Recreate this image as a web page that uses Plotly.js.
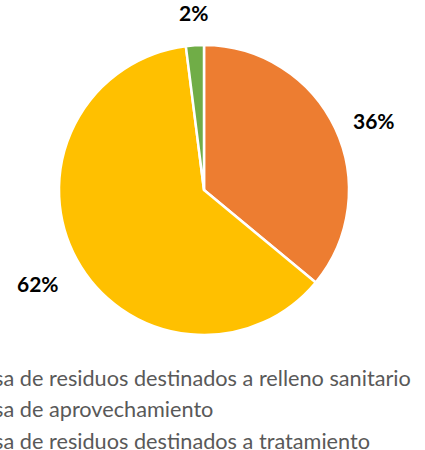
<!DOCTYPE html>
<html>
<head>
<meta charset="utf-8">
<script src="https://cdn.plot.ly/plotly-3.0.1.min.js"></script>
<style>html,body{margin:0;padding:0;background:#fff;overflow:hidden;width:425px;height:450px;}#wrap{position:relative;width:425px;height:450px;overflow:hidden;}#chart{position:absolute;left:-67px;top:0;width:492px;height:480px;}</style>
</head>
<body>
<div id="wrap"><div id="chart"></div></div>
<script>
const labels = [
  "Tasa de residuos destinados a relleno sanitario",
  "Tasa de aprovechamiento",
  "Tasa de residuos destinados a tratamiento"
];
const values = [36, 62, 2];
const colors = ["#ED7D31", "#FFC000", "#70AD47"];

// geometry (pixels within the plotly paper)
const W = 492, H = 480;
const cx = 271, cy = 190, R = 145, GAP = 18;

const trace = {
  type: "pie",
  labels: labels,
  values: values,
  sort: false,
  direction: "clockwise",
  rotation: 0,
  marker: {colors: colors, line: {color: "#ffffff", width: 2.5}},
  textinfo: "none",
  hoverinfo: "none",
  domain: {x: [(cx - R) / W, (cx + R) / W], y: [1 - (cy + R) / H, 1 - (cy - R) / H]}
};

// percentage labels placed just outside each slice, from the data
const total = values.reduce((a, b) => a + b, 0);
let cum = 0;
const annotations = values.map(v => {
  const mid = (cum + v / 2) / total * 2 * Math.PI;
  cum += v;
  const dx = Math.sin(mid), dy = -Math.cos(mid); // screen direction
  const px = cx + (R + GAP) * dx, py = cy + (R + GAP) * dy;
  const pct = Math.round(v / total * 100) + "%";
  return {
    x: px / W, y: 1 - py / H, xref: "paper", yref: "paper",
    text: "<b>" + pct + "</b>", showarrow: false,
    xanchor: dx > 0.3 ? "left" : (dx < -0.3 ? "right" : "center"),
    yanchor: dy < -0.45 ? "bottom" : (dy > 0.45 ? "top" : "middle"),
    font: {family: "Lato, sans-serif", size: 21, color: "#000000"}
  };
});

const layout = {
  width: W, height: H,
  margin: {l: 0, r: 0, t: 0, b: 0},
  paper_bgcolor: "#ffffff",
  showlegend: true,
  annotations: annotations,
  legend: {
    x: 0, xanchor: "left", y: 0.256, yanchor: "top",
    orientation: "v",
    font: {family: "Lato, sans-serif", size: 21.7, color: "#595959"},
    bgcolor: "rgba(0,0,0,0)"
  }
};

Plotly.newPlot("chart", [trace], layout, {displayModeBar: false, staticPlot: true});
</script>
</body>
</html>
